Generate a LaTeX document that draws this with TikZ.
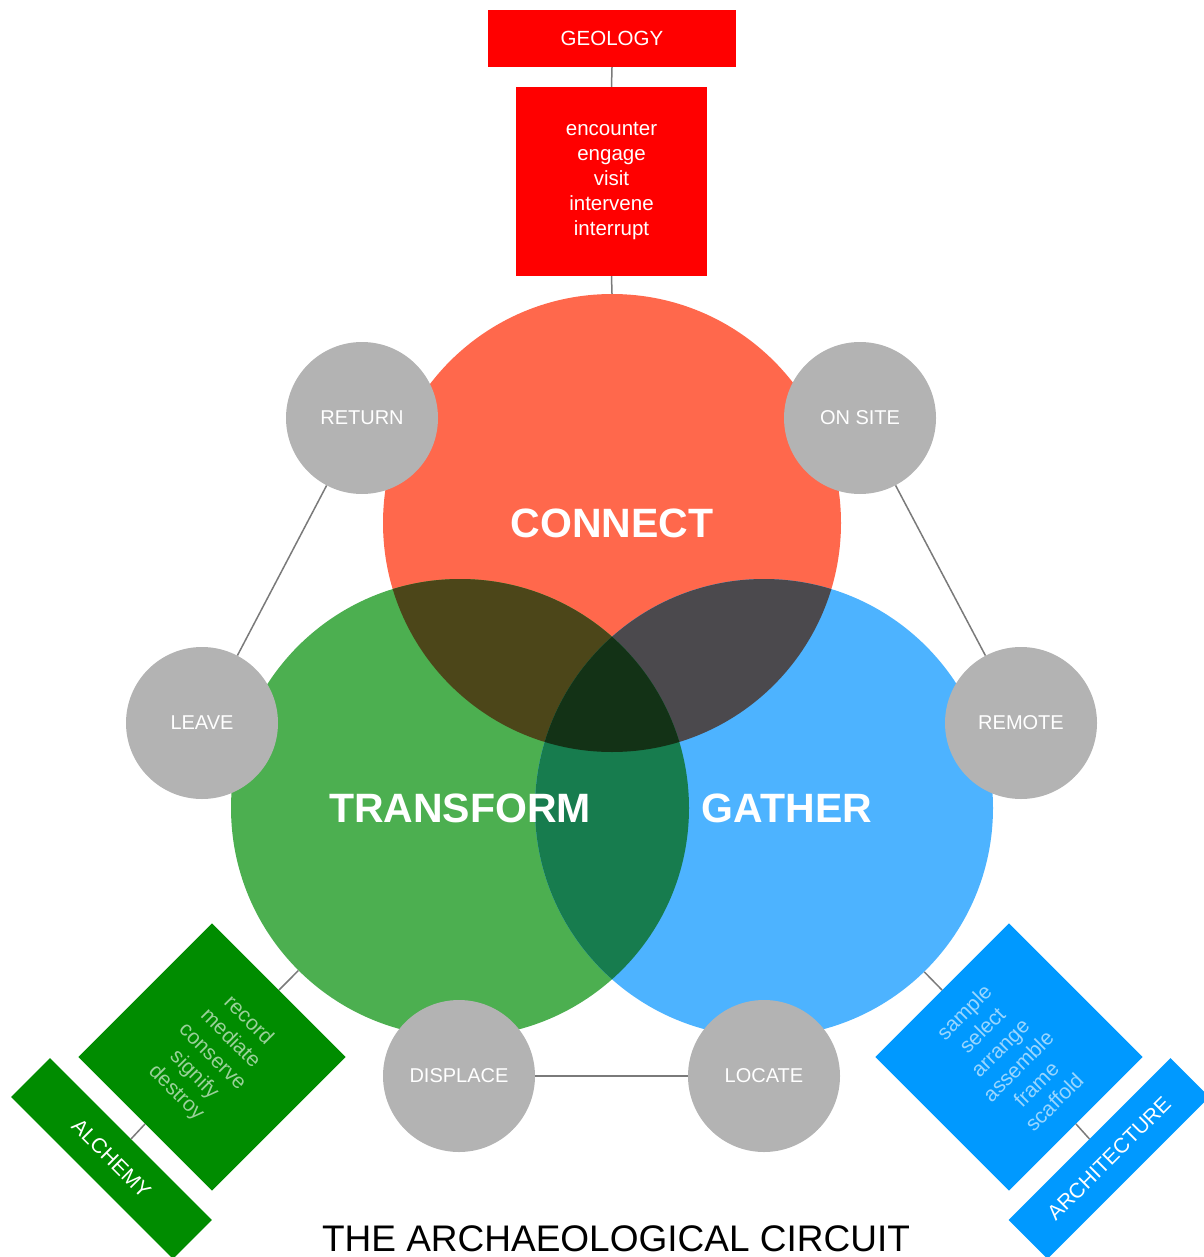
\documentclass[tikz,border=0pt]{standalone}
\usepackage{fontspec}
\setmainfont{Liberation Sans}
\definecolor{cred}{HTML}{FF684C}
\definecolor{cgreen}{HTML}{4CAF50}
\definecolor{cblue}{HTML}{4DB3FF}
\definecolor{crg}{HTML}{4C4619}
\definecolor{crb}{HTML}{4B494D}
\definecolor{cgb}{HTML}{177C4E}
\definecolor{crgb}{HTML}{133216}
\definecolor{cgray}{HTML}{B3B3B3}
\definecolor{linegray}{HTML}{7A7A7A}
\definecolor{boxred}{HTML}{FF0000}
\definecolor{boxgreen}{HTML}{008C00}
\definecolor{boxblue}{HTML}{0099FF}
\definecolor{txtgreen}{HTML}{99D199}
\definecolor{txtblue}{HTML}{99D6FF}
\begin{document}
\begin{tikzpicture}[x=1pt,y=-1pt,
  bigc/.style={circle, minimum size=458pt, inner sep=0pt, text=white, font=\bfseries\fontsize{41}{41}\selectfont},
  biglabel/.style={inner sep=0pt, text=white, font=\bfseries\fontsize{41}{41}\selectfont},
  smallc/.style={circle, fill=cgray, minimum size=152pt, inner sep=0pt, text=white, font=\fontsize{20}{24}\selectfont},
  link/.style={draw=linegray, line width=1.5pt},
  redbox/.style={fill=boxred, text=white, inner sep=0pt, align=center, font=\fontsize{20.5}{25}\selectfont},
  sqbox/.style={minimum size=189pt, inner sep=0pt, align=center, font=\fontsize{21}{25.5}\selectfont},
  band/.style={minimum width=229pt, minimum height=55pt, inner sep=0pt, text=white, font=\fontsize{21}{25}\selectfont}
]
\useasboundingbox (0,0) rectangle (1203,1257);
% main circles
\fill[cred] (612,523) circle[radius=229pt];
\fill[cgreen] (460,808) circle[radius=229pt];
\fill[cblue] (764,808) circle[radius=229pt];
\begin{scope}
  \clip (612,523) circle[radius=229pt];
  \fill[crg] (460,808) circle[radius=229pt];
  \fill[crb] (764,808) circle[radius=229pt];
\end{scope}
\begin{scope}
  \clip (460,808) circle[radius=229pt];
  \fill[cgb] (764,808) circle[radius=229pt];
\end{scope}
\begin{scope}
  \clip (612,523) circle[radius=229pt];
  \clip (460,808) circle[radius=229pt];
  \fill[crgb] (764,808) circle[radius=229pt];
\end{scope}
\node[bigc] (connect) at (612,523) {CONNECT};
\node[bigc] (transform) at (460,808) {TRANSFORM};
\node[bigc] (gather) at (764,808) {};
\node[biglabel] (gatherlabel) at (787,808) {GATHER};
% small grey circles
\node[smallc] (return) at (362,418) {RETURN};
\node[smallc] (onsite) at (860,418) {ON SITE};
\node[smallc] (leave) at (202,723) {LEAVE};
\node[smallc] (remote) at (1021,723) {REMOTE};
\node[smallc] (displace) at (459,1076) {DISPLACE};
\node[smallc] (locate) at (764,1076) {LOCATE};
\draw[link] (return) -- (leave);
\draw[link] (onsite) -- (remote);
\draw[link] (displace) -- (locate);
% top boxes
\node[redbox, minimum width=248pt, minimum height=57pt] (geology) at (612,38.5) {GEOLOGY};
\node[redbox, minimum width=191pt, minimum height=189pt] (connectwords) at (611.5,181.5) {encounter\\engage\\visit\\intervene\\interrupt};
\draw[link] (geology.south) -- (connectwords.north);
\draw[link] (connectwords.south) -- (connect.north);
% bottom-left boxes
\node[sqbox, fill=boxgreen, text=txtgreen, rotate=-45] (transformwords) at (212,1057) {record\\mediate\\conserve\\signify\\destroy};
\node[band, fill=boxgreen, rotate=-45] (alchemy) at (111.5,1158.5) {ALCHEMY};
\draw[link] (transformwords.north) -- (transform);
\draw[link] (transformwords.south) -- (alchemy.north);
% bottom-right boxes
\node[sqbox, fill=boxblue, text=txtblue, rotate=45] (gatherwords) at (1009,1057) {sample\\select\\arrange\\assemble\\frame\\scaffold};
\node[band, fill=boxblue, rotate=45] (architecture) at (1109,1158.5) {ARCHITECTURE};
\draw[link] (gatherwords.north) -- (gather);
\draw[link] (gatherwords.south) -- (architecture.north);
% title
\node[inner sep=0pt, anchor=base, font=\fontsize{37}{37}\selectfont] (title) at (616,1251) {THE ARCHAEOLOGICAL CIRCUIT};
\end{tikzpicture}
\end{document}
